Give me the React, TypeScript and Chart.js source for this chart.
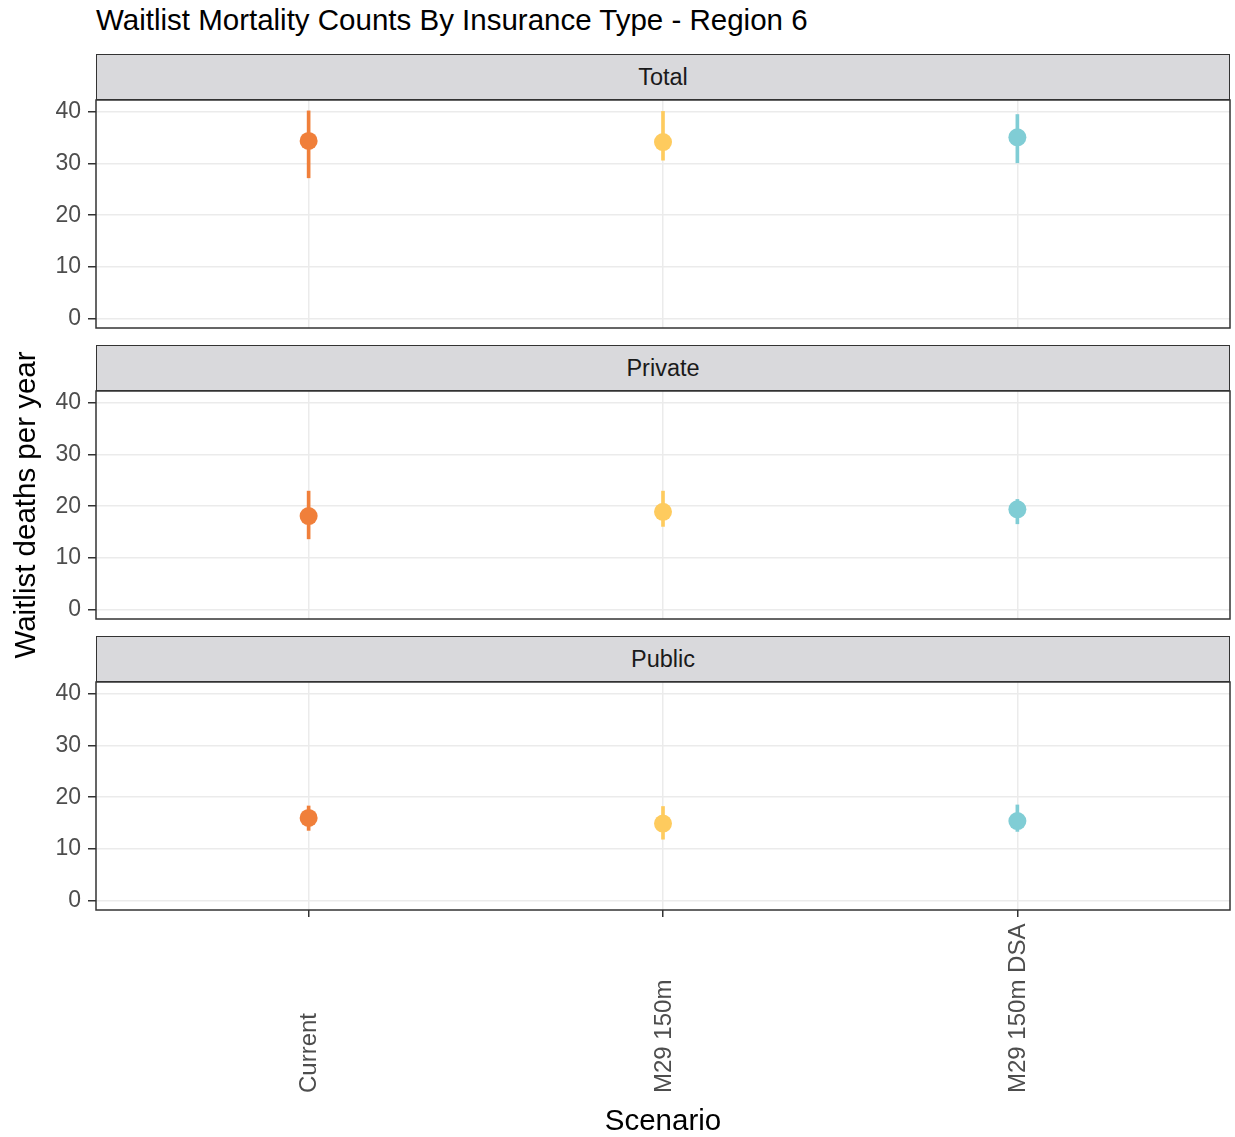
import React, { useEffect, useRef } from 'react';
import { Chart, registerables } from 'chart.js';

Chart.register(...registerables);

// ---- Data ----
const scenarios = ['Current', 'M29 150m', 'M29 150m DSA'];
const panelNames = ['Total', 'Private', 'Public'];

const totalMean = [34.3, 34.1, 35.0];
const totalLow = [27.2, 30.6, 30.1];
const totalHigh = [40.1, 40.0, 39.4];

const privateMean = [18.1, 18.9, 19.4];
const privateLow = [13.7, 16.1, 16.6];
const privateHigh = [22.9, 22.9, 21.3];

const publicMean = [16.0, 14.9, 15.4];
const publicLow = [13.6, 11.9, 13.4];
const publicHigh = [18.3, 18.2, 18.5];

const yMajorTicks = [0, 10, 20, 30, 40];
const yMinorTicks = [5, 15, 25, 35];

const scenarioColors = ['#F07F3A', '#FECB5E', '#80CDD5'];

// ---- Layout ----
const W = 1235;
const H = 1137;
const PLOT_LEFT = 96;
const PLOT_RIGHT = 1230;
const PLOT_TOPS = [100, 391, 682];
const PLOT_H = 228;
const STRIP_H = 46;
const PAD = 24;
const XLABEL_BASE_Y = 1093; // where rotated x labels start (bottom)
const FONT = '"Liberation Sans", Arial, Helvetica, sans-serif';

const panelBorder = {
  id: 'panelBorder',
  afterDatasetsDraw(chart: any) {
    const { ctx, chartArea: a } = chart;
    ctx.save();
    ctx.strokeStyle = '#333333';
    ctx.lineWidth = 1.5;
    ctx.strokeRect(a.left, a.top, a.right - a.left, a.bottom - a.top);
    ctx.restore();
  },
};

function makeXLabelPlugin(canvasTop: number) {
  return {
    id: 'xLabels',
    afterDraw(chart: any) {
      const { ctx } = chart;
      const xs = chart.scales.x;
      ctx.save();
      ctx.fillStyle = '#4D4D4D';
      ctx.font = `24px ${FONT}`;
      ctx.textAlign = 'left';
      ctx.textBaseline = 'middle';
      scenarios.forEach((label, i) => {
        const px = xs.getPixelForValue(i + 1);
        ctx.save();
        ctx.translate(px + 1, XLABEL_BASE_Y - canvasTop);
        ctx.rotate(-Math.PI / 2);
        ctx.fillText(label, 0, 0);
        ctx.restore();
      });
      ctx.restore();
    },
  };
}

function Panel({ index, mean, low, high }: { index: number; mean: number[]; low: number[]; high: number[] }) {
  const ref = useRef<HTMLCanvasElement | null>(null);
  const isBottom = index === 2;
  const canvasTop = PLOT_TOPS[index] - PAD;
  const canvasH = isBottom ? H - canvasTop : PAD + PLOT_H + PAD;

  useEffect(() => {
    const allY = [...yMajorTicks, ...yMinorTicks].sort((a, b) => a - b);
    const plugins: any[] = [panelBorder];
    if (isBottom) plugins.push(makeXLabelPlugin(canvasTop));
    const chart = new Chart(ref.current as HTMLCanvasElement, {
      type: 'bar',
      data: {
        datasets: [
          {
            type: 'scatter',
            data: scenarios.map((_, i) => ({ x: i + 1, y: mean[i] })),
            pointRadius: 9,
            pointHoverRadius: 9,
            pointBackgroundColor: scenarioColors,
            pointBorderWidth: 0,
            showLine: false,
            order: 0,
          } as any,
          {
            type: 'bar',
            data: scenarios.map((_, i) => ({ x: i + 1, y: [low[i], high[i]] })),
            backgroundColor: scenarioColors,
            barThickness: 3,
            borderWidth: 0,
            order: 1,
          } as any,
        ],
      },
      options: {
        responsive: false,
        animation: false,
        events: [],
        layout: {
          autoPadding: false,
          padding: { top: PAD, bottom: isBottom ? 0 : PAD, left: 0, right: W - PLOT_RIGHT },
        },
        plugins: { legend: { display: false }, tooltip: { enabled: false } },
        scales: {
          x: {
            type: 'linear',
            min: 0.4,
            max: 3.6,
            offset: false,
            afterBuildTicks: (s: any) => {
              s.ticks = scenarios.map((_, i) => ({ value: i + 1 }));
            },
            afterFit: (s: any) => {
              s.height = isBottom ? canvasH - PAD - PLOT_H : 0;
            },
            ticks: { display: false },
            grid: {
              offset: false,
              color: '#EBEBEB',
              lineWidth: 1.5,
              drawTicks: isBottom,
              tickLength: 7,
              tickColor: '#333333',
              tickWidth: 1.5,
            },
            border: { display: false },
          } as any,
          y: {
            type: 'linear',
            min: -1.75,
            max: 42.2,
            afterBuildTicks: (s: any) => {
              s.ticks = allY.map((v) => ({ value: v }));
            },
            afterFit: (s: any) => {
              s.width = PLOT_LEFT;
            },
            ticks: {
              padding: 7,
              color: '#4D4D4D',
              font: { family: FONT, size: 23 },
              callback: (v: any) => (yMajorTicks.includes(Number(v)) ? String(v) : ''),
            },
            grid: {
              color: (c: any) => (yMajorTicks.includes(c.tick?.value) ? '#EBEBEB' : '#F1F1F1'),
              lineWidth: (c: any) => (yMajorTicks.includes(c.tick?.value) ? 1.5 : 1),
              tickLength: 8,
              tickColor: (c: any) => (yMajorTicks.includes(c.tick?.value) ? '#333333' : 'rgba(0,0,0,0)'),
              tickWidth: 1.5,
            },
            border: { display: false },
          } as any,
        },
      },
      plugins,
    });
    return () => chart.destroy();
  }, []);

  return (
    <canvas
      ref={ref}
      width={W}
      height={canvasH}
      style={{ position: 'absolute', left: 0, top: canvasTop, width: W, height: canvasH }}
    />
  );
}

export default function App() {
  const series = [
    { mean: totalMean, low: totalLow, high: totalHigh },
    { mean: privateMean, low: privateLow, high: privateHigh },
    { mean: publicMean, low: publicLow, high: publicHigh },
  ];
  return (
    <div
      style={{
        position: 'absolute',
        left: 0,
        top: 0,
        width: W,
        height: H,
        background: '#ffffff',
        fontFamily: FONT,
        overflow: 'hidden',
      }}
    >
      <div
        style={{
          position: 'absolute',
          left: 96,
          top: 3,
          fontSize: 29.5,
          lineHeight: '34px',
          color: '#000',
          whiteSpace: 'nowrap',
        }}
      >
        Waitlist Mortality Counts By Insurance Type - Region 6
      </div>

      {panelNames.map((name, i) => (
        <div
          key={name}
          style={{
            position: 'absolute',
            left: PLOT_LEFT,
            top: PLOT_TOPS[i] - STRIP_H,
            width: PLOT_RIGHT - PLOT_LEFT,
            height: STRIP_H,
            boxSizing: 'border-box',
            border: '1.5px solid #333333',
            background: '#D9D9DC',
            color: '#1A1A1A',
            fontSize: 23.5,
            lineHeight: `${STRIP_H - 1}px`,
            textAlign: 'center',
          }}
        >
          {name}
        </div>
      ))}

      {series.map((s, i) => (
        <Panel key={i} index={i} mean={s.mean} low={s.low} high={s.high} />
      ))}

      <div
        style={{
          position: 'absolute',
          left: 25 - 200,
          top: 505 - 17,
          width: 400,
          height: 34,
          lineHeight: '34px',
          fontSize: 29.5,
          textAlign: 'center',
          color: '#000',
          transform: 'rotate(-90deg)',
          transformOrigin: 'center center',
          whiteSpace: 'nowrap',
        }}
      >
        Waitlist deaths per year
      </div>

      <div
        style={{
          position: 'absolute',
          left: PLOT_LEFT,
          width: PLOT_RIGHT - PLOT_LEFT,
          top: 1103,
          fontSize: 29.5,
          lineHeight: '34px',
          textAlign: 'center',
          color: '#000',
        }}
      >
        Scenario
      </div>
    </div>
  );
}
